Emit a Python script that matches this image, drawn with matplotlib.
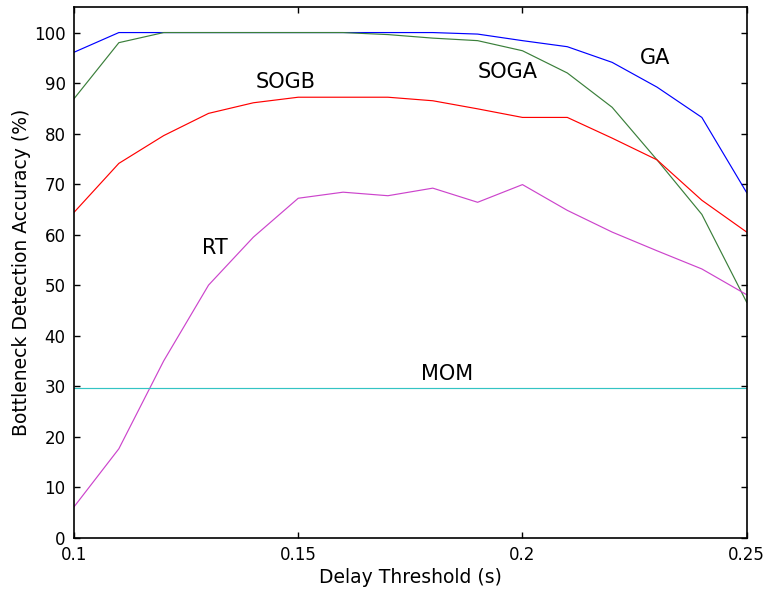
import numpy as np
import matplotlib
matplotlib.use('Agg')
import matplotlib.pyplot as plt

# ==============================================================================
# 数据
# ==============================================================================
delay = [0.10, 0.11, 0.12, 0.13, 0.14, 0.15, 0.16, 0.17,
         0.18, 0.19, 0.20, 0.21, 0.22, 0.23, 0.24, 0.25]

acc_ga = [96.1, 100.0, 100.0, 100.0, 100.0, 100.0, 100.0, 100.0,
          100.0, 99.7, 98.4, 97.2, 94.1, 89.2, 83.2, 68.3]
acc_soga = [86.9, 98.0, 100.0, 100.0, 100.0, 100.0, 100.0, 99.6,
            98.9, 98.4, 96.4, 92.0, 85.2, 74.8, 64.0, 46.6]
acc_sogb = [64.4, 74.1, 79.6, 84.0, 86.1, 87.2, 87.2, 87.2,
            86.5, 84.9, 83.2, 83.2, 79.1, 74.8, 66.8, 60.5]
acc_rt = [6.1, 17.6, 35.0, 50.0, 59.5, 67.2, 68.4, 67.7,
          69.2, 66.4, 69.9, 64.8, 60.5, 56.8, 53.2, 48.1]
acc_mom = [29.6] * len(delay)

# 曲线名称标注 (文字, x, y)
labels = [('GA', 0.2296, 94.9), ('SOGA', 0.1968, 92.2), ('SOGB', 0.1473, 90.2),
          ('RT', 0.1314, 57.4), ('MOM', 0.1832, 32.4)]

# ==============================================================================
# 画图
# ==============================================================================
fig = plt.figure(figsize=(7.66, 5.94), dpi=100)
ax = fig.add_axes([0.0966, 0.0948, 0.8782, 0.8929])

lw = 0.85
ax.plot(delay, acc_ga, color='#0000ff', lw=lw)
ax.plot(delay, acc_soga, color='#3a7f3a', lw=lw)
ax.plot(delay, acc_sogb, color='#ff0000', lw=lw)
ax.plot(delay, acc_rt, color='#cc44cc', lw=lw)
ax.plot(delay, acc_mom, color='#33c4c4', lw=lw)

for txt, x, y in labels:
    ax.text(x, y, txt, fontsize=15, ha='center', va='center')

ax.set_xlim(0.1, 0.25)
ax.set_ylim(0, 105)
ax.set_xticks([0.1, 0.15, 0.2, 0.25])
ax.set_xticklabels(['0.1', '0.15', '0.2', '0.25'])
ax.set_yticks(np.arange(0, 101, 10))
ax.tick_params(direction='in', length=4, width=1, labelsize=12,
               top=True, right=True, pad=6)
for s in ax.spines.values():
    s.set_linewidth(1.2)

ax.set_xlabel('Delay Threshold (s)', fontsize=13.5, labelpad=3)
ax.set_ylabel('Bottleneck Detection Accuracy (%)', fontsize=13.5, labelpad=2)

fig.savefig('out.png', dpi=100)
